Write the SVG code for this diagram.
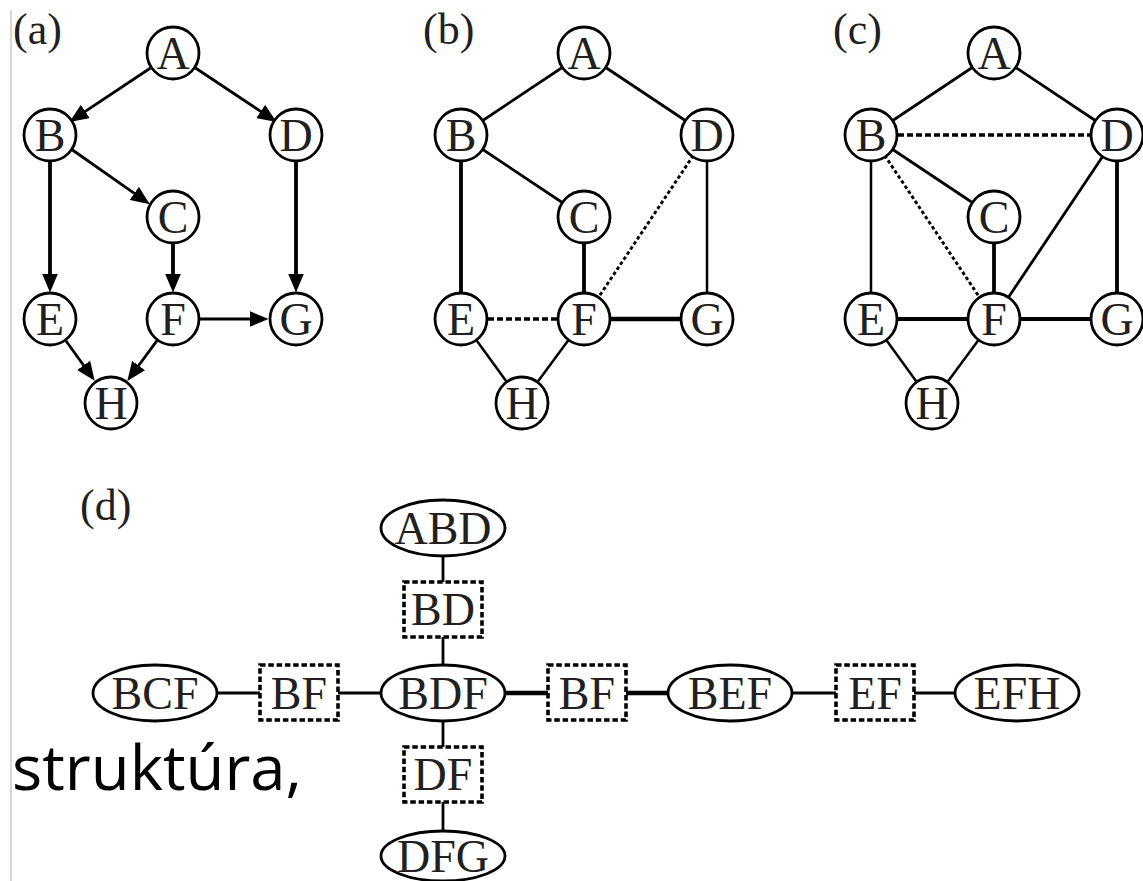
<svg xmlns="http://www.w3.org/2000/svg" width="1143" height="881" viewBox="0 0 1143 881">
<style>
.bg{fill:#ffffff}
.nd circle{fill:#ffffff;stroke:#000000;stroke-width:2.8}
.nd ellipse{fill:#ffffff;stroke:#000000;stroke-width:2.8}
.sep rect{fill:#ffffff;stroke:#000000;stroke-width:3.6;stroke-dasharray:5.5 2.8}
.t{font-family:"Liberation Serif","Times New Roman",serif;font-size:46px;fill:#231f20;text-anchor:middle}
.lbl{font-family:"Liberation Serif","Times New Roman",serif;font-size:44px;fill:#231f20}
.e{stroke:#000000;fill:none;stroke-width:2.8}
.th{stroke-width:3.8}
.tn{stroke-width:2.5}
.dash{stroke-width:3.6;stroke-dasharray:6 3}
.dot{stroke-width:2.9;stroke-dasharray:3.5 2.6}
.thk{stroke-width:4.5}
</style>
<defs>
<marker id="ah" markerUnits="userSpaceOnUse" markerWidth="19" markerHeight="16" refX="0.5" refY="8" orient="auto">
<path d="M0,0 L19,8 L0,16 z" fill="#000000"/>
</marker>
</defs>
<rect class="bg" x="0" y="0" width="1143" height="881"/>
<line x1="11" y1="10" x2="11" y2="881" stroke="#c8c8c8" stroke-width="1.5"/>

<!-- Panel (a) -->
<text class="lbl" x="13" y="44">(a)</text>
<g id="edges-a">
<path class="e" d="M150.5,68 L84.9,111.7" marker-end="url(#ah)"/>
<path class="e" d="M195.5,68 L261.1,111.7" marker-end="url(#ah)"/>
<path class="e" d="M72.5,150 L134.7,193.7" marker-end="url(#ah)"/>
<path class="e th" d="M50,162 L50,274" marker-end="url(#ah)"/>
<path class="e th" d="M296,162 L296,274" marker-end="url(#ah)"/>
<path class="e th" d="M173,244 L173,274" marker-end="url(#ah)"/>
<path class="e" d="M200,319 L250,319" marker-end="url(#ah)"/>
<path class="e" d="M65.9,340.8 L83.9,365.8" marker-end="url(#ah)"/>
<path class="e" d="M157,340.7 L138.3,366" marker-end="url(#ah)"/>
</g>
<g id="a-A" class="nd"><circle cx="173" cy="53" r="26"/><text class="t" x="173" y="68.5">A</text></g>
<g id="a-B" class="nd"><circle cx="50" cy="135" r="26"/><text class="t" x="50" y="150.5">B</text></g>
<g id="a-D" class="nd"><circle cx="296" cy="135" r="26"/><text class="t" x="296" y="150.5">D</text></g>
<g id="a-C" class="nd"><circle cx="173" cy="217" r="26"/><text class="t" x="173" y="232.5">C</text></g>
<g id="a-E" class="nd"><circle cx="50" cy="319" r="26"/><text class="t" x="50" y="334.5">E</text></g>
<g id="a-F" class="nd"><circle cx="173" cy="319" r="26"/><text class="t" x="173" y="334.5">F</text></g>
<g id="a-G" class="nd"><circle cx="296" cy="319" r="26"/><text class="t" x="296" y="334.5">G</text></g>
<g id="a-H" class="nd"><circle cx="111" cy="403" r="26"/><text class="t" x="111" y="418.5">H</text></g>

<!-- Panel (b) -->
<text class="lbl" x="423" y="44">(b)</text>
<g transform="translate(411,0)">
<g id="edges-b">
<line class="e" x1="173" y1="53" x2="50" y2="135"/>
<line class="e" x1="173" y1="53" x2="296" y2="135"/>
<line class="e" x1="50" y1="135" x2="173" y2="217"/>
<line class="e th" x1="50" y1="135" x2="50" y2="319"/>
<line class="e th" x1="173" y1="217" x2="173" y2="319"/>
<line class="e tn" x1="296" y1="135" x2="296" y2="319"/>
<line class="e dot" x1="296" y1="135" x2="173" y2="319"/>
<line class="e dash" x1="50" y1="319" x2="173" y2="319"/>
<line class="e thk" x1="173" y1="319" x2="296" y2="319"/>
<line class="e tn" x1="50" y1="319" x2="111" y2="403"/>
<line class="e tn" x1="173" y1="319" x2="111" y2="403"/>
</g>
<g id="b-A" class="nd"><circle cx="173" cy="53" r="26"/><text class="t" x="173" y="68.5">A</text></g>
<g id="b-B" class="nd"><circle cx="50" cy="135" r="26"/><text class="t" x="50" y="150.5">B</text></g>
<g id="b-D" class="nd"><circle cx="296" cy="135" r="26"/><text class="t" x="296" y="150.5">D</text></g>
<g id="b-C" class="nd"><circle cx="173" cy="217" r="26"/><text class="t" x="173" y="232.5">C</text></g>
<g id="b-E" class="nd"><circle cx="50" cy="319" r="26"/><text class="t" x="50" y="334.5">E</text></g>
<g id="b-F" class="nd"><circle cx="173" cy="319" r="26"/><text class="t" x="173" y="334.5">F</text></g>
<g id="b-G" class="nd"><circle cx="296" cy="319" r="26"/><text class="t" x="296" y="334.5">G</text></g>
<g id="b-H" class="nd"><circle cx="111" cy="403" r="26"/><text class="t" x="111" y="418.5">H</text></g>
</g>

<!-- Panel (c) -->
<text class="lbl" x="833" y="44">(c)</text>
<g transform="translate(821,0)">
<g id="edges-c">
<line class="e" x1="173" y1="53" x2="50" y2="135"/>
<line class="e" x1="173" y1="53" x2="296" y2="135"/>
<line class="e dash" x1="50" y1="135" x2="296" y2="135"/>
<line class="e" x1="50" y1="135" x2="173" y2="217"/>
<line class="e tn" x1="50" y1="135" x2="50" y2="319"/>
<line class="e dot" x1="50" y1="135" x2="173" y2="319"/>
<line class="e th" x1="173" y1="217" x2="173" y2="319"/>
<line class="e" x1="296" y1="135" x2="173" y2="319"/>
<line class="e th" x1="296" y1="135" x2="296" y2="319"/>
<line class="e th" x1="50" y1="319" x2="173" y2="319"/>
<line class="e th" x1="173" y1="319" x2="296" y2="319"/>
<line class="e tn" x1="50" y1="319" x2="111" y2="403"/>
<line class="e tn" x1="173" y1="319" x2="111" y2="403"/>
</g>
<g id="c-A" class="nd"><circle cx="173" cy="53" r="26"/><text class="t" x="173" y="68.5">A</text></g>
<g id="c-B" class="nd"><circle cx="50" cy="135" r="26"/><text class="t" x="50" y="150.5">B</text></g>
<g id="c-D" class="nd"><circle cx="296" cy="135" r="26"/><text class="t" x="296" y="150.5">D</text></g>
<g id="c-C" class="nd"><circle cx="173" cy="217" r="26"/><text class="t" x="173" y="232.5">C</text></g>
<g id="c-E" class="nd"><circle cx="50" cy="319" r="26"/><text class="t" x="50" y="334.5">E</text></g>
<g id="c-F" class="nd"><circle cx="173" cy="319" r="26"/><text class="t" x="173" y="334.5">F</text></g>
<g id="c-G" class="nd"><circle cx="296" cy="319" r="26"/><text class="t" x="296" y="334.5">G</text></g>
<g id="c-H" class="nd"><circle cx="111" cy="403" r="26"/><text class="t" x="111" y="418.5">H</text></g>
</g>

<!-- Panel (d) -->
<text class="lbl" x="80" y="520">(d)</text>
<g id="edges-d">
<line class="e" x1="443" y1="528" x2="443" y2="856"/>
<line class="e" x1="155" y1="693" x2="443" y2="693"/>
<line class="e thk" x1="443" y1="693" x2="730" y2="693"/>
<line class="e" x1="730" y1="693" x2="1017" y2="693"/>
</g>
<g id="d-ABD" class="nd"><ellipse cx="443" cy="528" rx="62" ry="28"/><text class="t" x="443" y="543.5">ABD</text></g>
<g id="d-BD" class="sep"><rect x="404" y="582" width="78" height="55"/><text class="t" x="443" y="625">BD</text></g>
<g id="d-BDF" class="nd"><ellipse cx="443" cy="693" rx="62" ry="28"/><text class="t" x="443" y="708.5">BDF</text></g>
<g id="d-DF" class="sep"><rect x="404" y="747" width="78" height="55"/><text class="t" x="443" y="790">DF</text></g>
<g id="d-DFG" class="nd"><ellipse cx="443" cy="856" rx="62" ry="25"/><text class="t" x="443" y="871.5">DFG</text></g>
<g id="d-BCF" class="nd"><ellipse cx="155" cy="693" rx="62" ry="28"/><text class="t" x="155" y="708.5">BCF</text></g>
<g id="d-BF1" class="sep"><rect x="260" y="665" width="78" height="55"/><text class="t" x="299" y="708.5">BF</text></g>
<g id="d-BF2" class="sep"><rect x="548" y="665" width="78" height="55"/><text class="t" x="587" y="708.5">BF</text></g>
<g id="d-BEF" class="nd"><ellipse cx="730" cy="693" rx="62" ry="28"/><text class="t" x="730" y="708.5">BEF</text></g>
<g id="d-EF" class="sep"><rect x="836" y="665" width="78" height="55"/><text class="t" x="875" y="708.5">EF</text></g>
<g id="d-EFH" class="nd"><ellipse cx="1017" cy="693" rx="62" ry="28"/><text class="t" x="1017" y="708.5">EFH</text></g>

<text x="12" y="790" font-family="'Open Sans','Noto Sans',sans-serif" font-size="62" fill="#000000" textLength="290" lengthAdjust="spacingAndGlyphs">struktúra,</text>
</svg>
